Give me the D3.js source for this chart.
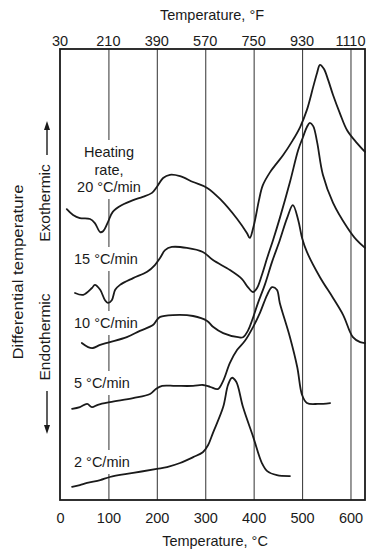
<!DOCTYPE html>
<html><head><meta charset="utf-8">
<script src="https://cdn.jsdelivr.net/npm/d3@7"></script>
<style>
html,body{margin:0;padding:0;background:#fff;}
svg{display:block;font-family:"Liberation Sans",Arial,Helvetica,sans-serif;}
</style>
</head><body>
<svg id="c" width="372" height="555"></svg>
<script>
// ---- data ----
const tempTicksC = [0,100,200,300,400,500,600];
const tempTicksF = [30,210,390,570,750,930,1110];
const rateLabels = ["20 °C/min","15 °C/min","10 °C/min","5 °C/min","2 °C/min"];
// [temperature °C, differential temperature (relative units, exo up)]
const rate20 = [[14,64.5],[27,63.2],[41,62.5],[62,62.3],[72,61.4],[83,59.4],[89,59.6],[99,61.6],[109,63.9],[128,65.4],[151,66.5],[171,67.2],[190,68.1],[200,69.4],[213,71.4],[227,72.1],[248,71.8],[275,70.5],[304,69.2],[331,66.7],[366,62.3],[386,59.2],[392,58.1],[399,60.3],[405,63.2],[411,66.5],[419,69.8],[434,72.7],[448,74.7],[461,76.5],[481,79.8],[496,82.7],[510,86.5],[523,91.6],[531,94.7],[537,96.5],[545,95.6],[554,93.1],[564,89.8],[578,85.8],[593,82.0],[613,79.2],[630,77.2]];
const rate15 = [[31,45.9],[48,45.5],[66,47.0],[72,47.7],[83,46.6],[93,44.3],[99,43.7],[107,44.3],[114,46.6],[124,47.7],[151,49.2],[180,50.6],[196,52.1],[207,53.7],[217,55.4],[231,56.1],[262,55.9],[295,55.0],[316,53.2],[351,51.0],[376,49.0],[388,47.2],[399,46.1],[407,47.0],[417,49.9],[428,53.7],[440,57.6],[454,62.5],[475,70.5],[492,77.6],[502,80.5],[510,82.7],[516,83.6],[523,82.9],[531,79.4],[543,72.1],[564,65.9],[593,60.5],[613,57.6],[630,55.9]];
const rate10 = [[45,34.8],[58,33.9],[68,33.7],[83,34.4],[103,35.0],[138,36.1],[165,37.5],[192,38.8],[200,39.9],[207,40.6],[233,41.0],[275,40.8],[304,39.7],[316,38.4],[337,37.0],[368,36.1],[378,36.1],[388,37.5],[397,39.9],[409,43.7],[423,47.7],[438,52.8],[454,57.6],[469,62.5],[481,65.4],[492,62.1],[500,58.1],[510,55.0],[537,49.4],[564,44.8],[585,41.0],[605,36.1],[620,35.0],[630,34.8]];
const rate5 = [[25,20.2],[41,20.6],[56,21.3],[66,20.6],[78,21.1],[103,21.7],[151,22.6],[186,23.5],[198,24.6],[211,25.3],[238,25.3],[275,25.3],[295,25.5],[310,25.1],[326,24.6],[337,26.4],[351,30.4],[366,33.3],[382,35.3],[399,38.4],[413,41.5],[428,45.5],[438,47.2],[448,46.6],[454,43.7],[475,36.1],[490,29.5],[500,23.3],[510,21.5],[533,21.3],[558,21.5]];
const rate2 = [[25,2.9],[41,3.3],[56,3.8],[83,4.4],[103,5.1],[151,6.0],[200,6.9],[221,7.3],[248,8.2],[275,9.5],[295,10.6],[306,12.2],[316,14.9],[337,20.6],[347,25.5],[355,27.1],[364,26.2],[378,20.6],[399,14.0],[417,8.2],[428,6.4],[448,5.5],[475,5.3]];
const series = [rate20, rate15, rate10, rate5, rate2];

// ---- layout ----
const svg = d3.select("#c");
const L = 60, R = 365, T = 49, B = 500;
const x = d3.scaleLinear().domain([0,630]).range([L,R]);
const xF = d3.scaleLinear().domain([32, 630*9/5+32]).range([L,R]);
const y = d3.scaleLinear().domain([0,100]).range([B,T]);
const ink = "#1a1a1a";
const fs = 14.5;

svg.append("rect").attr("width",372).attr("height",555).attr("fill","#fff");

// grid lines
const grid = svg.append("g").attr("transform",`translate(0,${B})`)
  .call(d3.axisBottom(x).tickValues(tempTicksC.slice(1)).tickSize(-(B-T)).tickFormat(""));
grid.select(".domain").remove();
grid.selectAll("line").attr("stroke","#444").attr("stroke-width",1.1);

// bottom axis labels
const bx = svg.append("g").attr("transform",`translate(0,${B})`)
  .call(d3.axisBottom(x).tickValues(tempTicksC).tickSize(0).tickFormat(d3.format("d")));
bx.select(".domain").remove();
bx.selectAll("text").attr("y",23).attr("dy",0).attr("font-size",fs).attr("fill",ink).attr("font-family",null);

// top axis labels
const tx = svg.append("g").attr("transform",`translate(0,${T})`)
  .call(d3.axisTop(xF).tickValues(tempTicksF).tickSize(0).tickFormat(d3.format("d")));
tx.select(".domain").remove();
tx.selectAll("text").attr("y",-3).attr("dy",0).attr("font-size",fs).attr("fill",ink).attr("font-family",null);

// titles
svg.append("text").attr("x",212).attr("y",20).attr("text-anchor","middle")
  .attr("font-size",fs).attr("fill",ink).text("Temperature, °F");
svg.append("text").attr("x",215).attr("y",546).attr("text-anchor","middle")
  .attr("font-size",fs).attr("fill",ink).text("Temperature, °C");

// y labels
svg.append("text").attr("transform","translate(23,272) rotate(-90)").attr("text-anchor","middle")
  .attr("font-size",15).attr("fill",ink).attr("textLength",175).attr("lengthAdjust","spacingAndGlyphs")
  .text("Differential temperature");
svg.append("text").attr("transform","translate(50,203) rotate(-90)").attr("text-anchor","middle")
  .attr("font-size",15.5).attr("fill",ink).text("Exothermic");
svg.append("text").attr("transform","translate(50,337) rotate(-90)").attr("text-anchor","middle")
  .attr("font-size",15.5).attr("fill",ink).text("Endothermic");
// arrows
svg.append("line").attr("x1",47).attr("x2",47).attr("y1",155).attr("y2",128).attr("stroke",ink).attr("stroke-width",1.4);
svg.append("path").attr("d","M47,121 L44,130 L50,130 Z").attr("fill",ink);
svg.append("line").attr("x1",47).attr("x2",47).attr("y1",391).attr("y2",426).attr("stroke",ink).attr("stroke-width",1.4);
svg.append("path").attr("d","M47,434 L44,425 L50,425 Z").attr("fill",ink);

// curve labels with white backgrounds
const labG = svg.append("g");
function label(lines, xPos, yBase, anchor){
  const g = labG.append("g");
  lines.forEach((t,i)=>{
    g.append("text").attr("x",xPos).attr("y",yBase + i*17.5).attr("text-anchor",anchor)
      .attr("font-size",fs).attr("fill",ink).text(t);
  });
  const bb = g.node().getBBox();
  g.insert("rect","text").attr("x",bb.x-2).attr("y",bb.y-4).attr("width",bb.width+4).attr("height",bb.height+8).attr("fill","#fff");
}
label(["Heating","rate,",rateLabels[0]], 109, 157, "middle");
label([rateLabels[1]], 74, 264, "start");
label([rateLabels[2]], 74, 328, "start");
label([rateLabels[3]], 74, 388, "start");
label([rateLabels[4]], 74, 467, "start");

// frame
svg.append("rect").attr("x",L).attr("y",T).attr("width",R-L).attr("height",B-T)
  .attr("fill","none").attr("stroke",ink).attr("stroke-width",1.8);

// curves
const line = d3.line().x(d=>x(d[0])).y(d=>y(d[1])).curve(d3.curveCatmullRom.alpha(0.5));
svg.append("g").selectAll("path").data(series).join("path")
  .attr("d",line).attr("fill","none").attr("stroke",ink).attr("stroke-width",1.8)
  .attr("stroke-linejoin","round").attr("stroke-linecap","round");
</script>
</body></html>
